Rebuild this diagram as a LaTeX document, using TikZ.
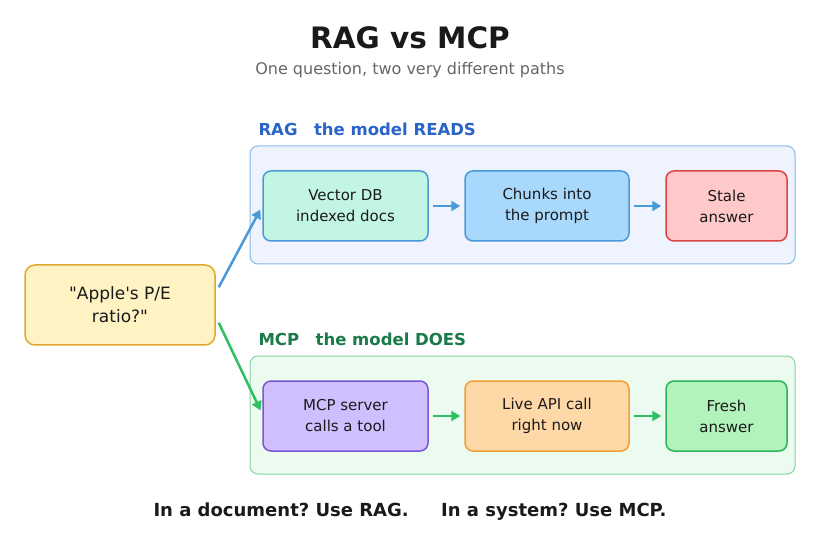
\documentclass[tikz,border=0pt]{standalone}
\usepackage{fontspec}
\setmainfont{DejaVu Sans}[Ligatures=TeXOff]
\frenchspacing
\usetikzlibrary{arrows.meta,calc}
\definecolor{titlec}{HTML}{1A1A1A}
\definecolor{subc}{HTML}{666666}
\definecolor{ragc}{HTML}{2B64C8}
\definecolor{mcpc}{HTML}{1A7A48}
\definecolor{ragbg}{HTML}{EEF3FD}
\definecolor{ragbd}{HTML}{86B9E6}
\definecolor{mcpbg}{HTML}{ECFBEF}
\definecolor{mcpbd}{HTML}{86D49E}
\definecolor{bluea}{HTML}{4A9AD8}
\definecolor{greena}{HTML}{2FBF62}
\definecolor{vdbf}{HTML}{C3F5E4}
\definecolor{chf}{HTML}{A8D8FB}
\definecolor{stf}{HTML}{FFC9C9}
\definecolor{stb}{HTML}{D94444}
\definecolor{msf}{HTML}{D0BFFF}
\definecolor{msb}{HTML}{7C55D6}
\definecolor{laf}{HTML}{FFD8A8}
\definecolor{lab}{HTML}{F0A030}
\definecolor{frf}{HTML}{B2F2BB}
\definecolor{frb}{HTML}{2FB35A}
\definecolor{qf}{HTML}{FFF3C4}
\definecolor{qb}{HTML}{E0A830}
\begin{document}
\begin{tikzpicture}[x=1pt,y=-1pt,
  container/.style={draw, line width=1pt, rounded corners=8pt, minimum width=545pt, minimum height=118pt, inner sep=0pt},
  stepbox/.style={draw, line width=1.5pt, rounded corners=8pt, minimum height=70pt, inner sep=0pt, align=center,
     font=\fontsize{15}{21}\selectfont, text=titlec},
  flow/.style={line width=2.5pt, -{Triangle[length=9pt,width=10pt]}, shorten <=4pt, shorten >=4pt},
  sectlabel/.style={anchor=west, font=\fontsize{16.5}{20}\selectfont\bfseries}
]
\useasboundingbox (0,0) rectangle (820,540);
\fill[white] (0,0) rectangle (820,540);

\node[font=\fontsize{29.5}{34}\selectfont\bfseries, text=titlec] (title) at (410,38) {RAG vs MCP};
\node[font=\fontsize{16}{19}\selectfont, text=subc] (sub) at (410,70) {One question, two very different paths};

\node[sectlabel, text=ragc] (raglbl) at (255,129) {RAG\hspace{1em}the model READS};
\node[container, draw=ragbd, fill=ragbg] (ragbox) at (522.5,205) {};
\node[sectlabel, text=mcpc] (mcplbl) at (255,339) {MCP\hspace{1em}the model DOES};
\node[container, draw=mcpbd, fill=mcpbg] (mcpbox) at (522.5,415) {};

\node[stepbox, minimum width=165pt, fill=vdbf, draw=bluea] (vdb) at (345.5,206) {Vector DB\\indexed docs};
\node[stepbox, minimum width=164pt, fill=chf, draw=bluea] (chk) at (547,206) {Chunks into\\the prompt};
\node[stepbox, minimum width=121pt, fill=stf, draw=stb] (stl) at (726.5,206) {Stale\\answer};

\node[stepbox, minimum width=165pt, fill=msf, draw=msb] (mcs) at (345.5,416) {MCP server\\calls a tool};
\node[stepbox, minimum width=164pt, fill=laf, draw=lab] (api) at (547,416) {Live API call\\right now};
\node[stepbox, minimum width=121pt, fill=frf, draw=frb] (frs) at (726.5,416) {Fresh\\answer};

\node[stepbox, minimum width=190pt, minimum height=80pt, rounded corners=10pt, fill=qf, draw=qb,
  font=\fontsize{17}{23}\selectfont] (q) at (120,305) {"Apple's P/E\\ratio?"};

\coordinate (qa) at ($(q.north east)+(3,23)$);
\coordinate (qb) at ($(q.south east)+(3,-23)$);

\draw[flow, draw=bluea, shorten <=0pt] (qa) -- (vdb.west);
\draw[flow, draw=greena, shorten <=0pt] (qb) -- ($(mcs.west)+(0,-2)$);

\draw[flow, draw=bluea] (vdb) -- (chk);
\draw[flow, draw=bluea] (chk) -- (stl);
\draw[flow, draw=greena] (mcs) -- (api);
\draw[flow, draw=greena] (api) -- (frs);

\node[font=\fontsize{18}{22}\selectfont\bfseries, text=titlec] (foot) at (410,512) {In a document? Use RAG.\hspace{1.8em}In a system? Use MCP.};
\end{tikzpicture}
\end{document}
